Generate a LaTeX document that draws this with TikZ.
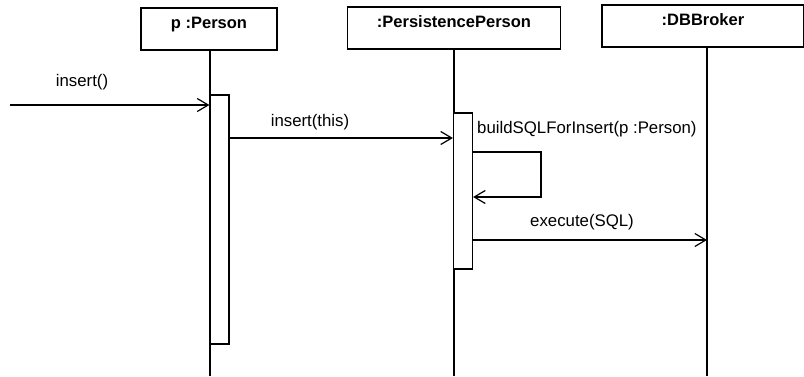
\documentclass[tikz,border=0pt]{standalone}
\usepackage{fontspec}
\setmainfont{Liberation Sans}
\usetikzlibrary{arrows.meta}
\begin{document}
\begin{tikzpicture}[x=1pt,y=-1pt,
  obj/.style={draw,line width=1.2pt,minimum height=42pt,inner sep=0pt},
  head/.style={font=\bfseries\fontsize{16.5}{19}\selectfont,inner sep=0pt},
  act/.style={draw,fill=white,line width=1.2pt,minimum width=19pt,inner sep=0pt},
  life/.style={line width=1.2pt},
  msg/.style={line width=1.2pt,-{Straight Barb[length=11pt,width=13pt,line width=1.2pt]}},
  lbl/.style={font=\fontsize{16.8}{19}\selectfont,inner sep=0pt}]
\useasboundingbox (0,0) rectangle (804,376);
% object heads
\node[obj,minimum width=136pt] (person) at (209,29) {};
\node[head] at (209,25) {p :Person};
\node[obj,minimum width=213pt] (pers) at (454,28) {};
\node[head] at (454,22) {:PersistencePerson};
\node[obj,minimum width=202pt] (db) at (703,26) {};
\node[head] at (703,20) {:DBBroker};
% lifelines
\coordinate (personEnd) at (210,376);
\coordinate (persEnd) at (454,376);
\coordinate (dbEnd) at (707,376);
\draw[life] (210,50) -- (personEnd);
\draw[life] (454,49) -- (persEnd);
\draw[life] (707,47) -- (dbEnd);
% activations
\node[act,minimum height=249pt] (a1) at (219.5,219.5) {};
\node[act,minimum height=156pt] (a2) at (463,191) {};
% found message
\coordinate (start) at (10,105);
\draw[msg] (start) -- (a1.west |- start);
\node[lbl] at (82,82) {insert()};
% insert(this)
\coordinate (m2) at (229,138);
\draw[msg] (a1.east |- m2) -- (a2.west |- m2);
\node[lbl] at (310,122) {insert(this)};
% self call
\coordinate (s1) at (472,152);
\coordinate (s2) at (541,152);
\coordinate (s3) at (541,197);
\draw[msg] (a2.east |- s1) -- (s2) -- (s3) -- (a2.east |- s3);
\node[lbl,anchor=west] at (477,129) {buildSQLForInsert(p :Person)};
% execute
\coordinate (m4) at (472,240);
\draw[msg] (a2.east |- m4) -- (m4 -| dbEnd);
\node[lbl] at (582,222) {execute(SQL)};
\end{tikzpicture}
\end{document}
